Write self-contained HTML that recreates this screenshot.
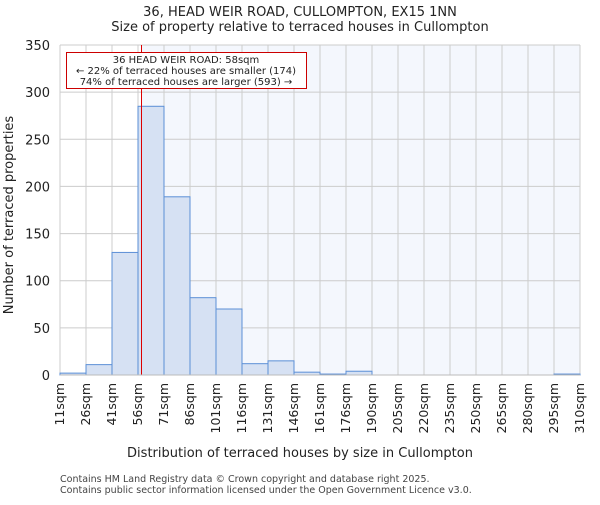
<!DOCTYPE html>
<html><head><meta charset="utf-8"><style>body{margin:0;background:#fff}svg{font-family:"DejaVu Sans","Liberation Sans",sans-serif}</style></head>
<body>
<svg id="c" width="600" height="500"></svg>
<script>
const labels=["11sqm","26sqm","41sqm","56sqm","71sqm","86sqm","101sqm","116sqm","131sqm","146sqm","161sqm","176sqm","190sqm","205sqm","220sqm","235sqm","250sqm","265sqm","280sqm","295sqm","310sqm"];
const counts=[2,11,130,285,189,82,70,12,15,3,1,4,0,0,0,0,0,0,0,1];
const yTicks=[0,50,100,150,200,250,300,350];
const marker=58;
const edges=[11,26,41,56,71,86,101,116,131,146,161,176,190,205,220,235,250,265,280,295,310];
const L=60,R=580,T=45,B=375,n=counts.length,bw=(R-L)/n;
const svg=document.getElementById('c');const NS='http://www.w3.org/2000/svg';
function mk(t,a,p){const e=document.createElementNS(NS,t);for(const k in a)e.setAttribute(k,a[k]);(p||svg).appendChild(e);return e;}
const y=v=>B-(v/350)*(B-T);
const xi=i=>L+i*bw;
function xv(v){for(let i=0;i<n;i++){if(v<=edges[i+1])return xi(i)+(v-edges[i])/(edges[i+1]-edges[i])*bw;}return R;}
const mx=Math.round(xv(marker))+0.5;
let bg=mk('rect',{x:mx,y:T,width:R-mx,height:B-T,fill:'#f4f7fd'});


for(let i=0;i<=n;i++){const g=mk('line',{x1:xi(i),x2:xi(i),y1:T,y2:B,stroke:'#cccccc'});}
yTicks.forEach(t=>{const g=mk('line',{x1:L,x2:R,y1:y(t),y2:y(t),stroke:'#cccccc'});
const tx=mk('text',{x:L-10,y:y(t)+5,'text-anchor':'end','font-size':13,fill:'#222'});tx.textContent=t;});
counts.forEach((c,i)=>{if(c<=0)return;const r=mk('rect',{x:xi(i),y:y(c),width:bw,height:B-y(c),fill:'#d6e1f3',stroke:'#5b8fd6','stroke-width':1});});
labels.forEach((l,i)=>{const tx=mk('text',{transform:`translate(${xi(i)+4},${B+8}) rotate(-90)`,'text-anchor':'end','font-size':12.5,fill:'#222'});tx.textContent=l;});
const ml=mk('line',{x1:mx,x2:mx,y1:T,y2:B,stroke:'#dd0000','stroke-width':1});
const bx=mk('rect',{x:66.5,y:52.5,width:240,height:36,fill:'#fff',stroke:'#cc0000'});
[["36 HEAD WEIR ROAD: 58sqm",63],["← 22% of terraced houses are smaller (174)",74],["74% of terraced houses are larger (593) →",85]].forEach(a=>{const t=mk('text',{x:186,y:a[1],'text-anchor':'middle','font-size':10,fill:'#222'});t.textContent=a[0];});
const ax=mk('line',{x1:L,x2:R,y1:B,y2:B,stroke:'#bbb'});
[["36, HEAD WEIR ROAD, CULLOMPTON, EX15 1NN",16,13,'title'],["Size of property relative to terraced houses in Cullompton",31,13,'subtitle'],["Distribution of terraced houses by size in Cullompton",457,13,'x-axis-title']].forEach(a=>{const t=mk('text',{x:300,y:a[1],'text-anchor':'middle','font-size':a[2],fill:'#222'});t.textContent=a[0];});
const yt=mk('text',{transform:'translate(13,215) rotate(-90)','text-anchor':'middle','font-size':13,fill:'#222'});yt.textContent='Number of terraced properties';
[["Contains HM Land Registry data © Crown copyright and database right 2025.",482],["Contains public sector information licensed under the Open Government Licence v3.0.",493]].forEach(a=>{const t=mk('text',{x:60,y:a[1],'font-size':9.5,fill:'#444'});t.textContent=a[0];});
</script>
</body></html>
